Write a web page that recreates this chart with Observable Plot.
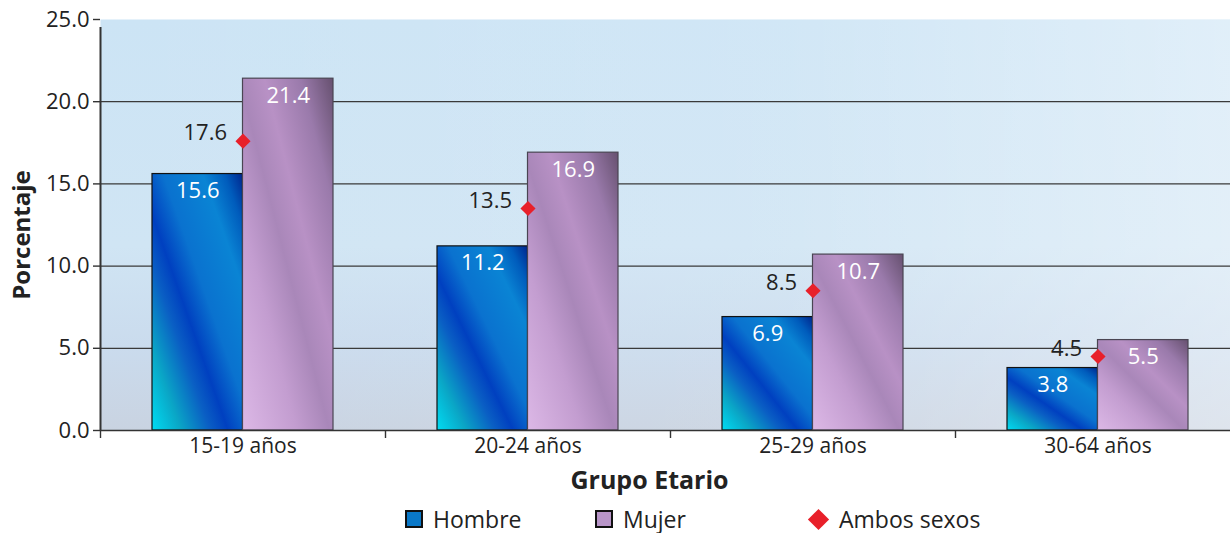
<!DOCTYPE html>
<html>
<head>
<meta charset="utf-8">
<script src="https://cdn.jsdelivr.net/npm/d3@7"></script>
<script src="https://cdn.jsdelivr.net/npm/@observablehq/plot@0.6"></script>
<style>
  html, body { margin: 0; padding: 0; background: #fff; }
  body { width: 1230px; height: 533px; overflow: hidden; font-family: "Open Sans", sans-serif; }
  #legend { height: 36px; position: relative; font-size: 23px; color: #222; }
  .item { position: absolute; top: 10px; height: 24px; line-height: 24px; display: flex; align-items: center; gap: 10px; }
  .sw { width: 14px; height: 14px; border: 2px solid #111; box-sizing: content-box; }
  .dia { width: 15px; height: 15px; background: #e8202a; transform: rotate(45deg); margin: 0 3px; }
  svg g[aria-label="y-axis tick label"] { font-size: 22px; }
  svg g[aria-label="x-axis tick label"] { font-size: 21px; }
</style>
</head>
<body>
<div id="chart"></div>
<div id="legend"></div>
<script>
const categories = ["15-19 años", "20-24 años", "25-29 años", "30-64 años"];
const hombre = [15.6, 11.2, 6.9, 3.8];
const mujer = [21.4, 16.9, 10.7, 5.5];
const ambos = [17.6, 13.5, 8.5, 4.5];
const yTicks = [0, 5, 10, 15, 20, 25];
const gridValues = [5, 10, 15, 20];
const seriesNames = ["Hombre", "Mujer", "Ambos sexos"];

const rows = categories.map((c, i) => ({cat: c, hombre: hombre[i], mujer: mujer[i], ambos: ambos[i]}));

const W = 1230, H = 497;
const xRange = [100, 1240];
const band = (xRange[1] - xRange[0]) / categories.length;
const half = band / 2;
const barW = 90.5;
const outer = half - barW;

function defs() {
  const ns = "http://www.w3.org/2000/svg";
  const g = document.createElementNS(ns, "defs");
  g.innerHTML = `
    <linearGradient id="bg" x1="0" y1="0" x2="0" y2="1">
      <stop offset="0" stop-color="#cce4f5"/>
      <stop offset="0.55" stop-color="#d0e5f4"/>
      <stop offset="0.8" stop-color="#cadbed"/>
      <stop offset="1" stop-color="#c9d3e1"/>
    </linearGradient>
    <linearGradient id="bg2" x1="0" y1="0" x2="1" y2="0">
      <stop offset="0" stop-color="#ffffff" stop-opacity="0"/>
      <stop offset="0.6" stop-color="#ffffff" stop-opacity="0.1"/>
      <stop offset="1" stop-color="#ffffff" stop-opacity="0.4"/>
    </linearGradient>
    <linearGradient id="gH" x1="0" y1="1" x2="1" y2="0">
      <stop offset="0" stop-color="#00dcf2"/>
      <stop offset="0.16" stop-color="#0aa6c6"/>
      <stop offset="0.32" stop-color="#0a5fc4"/>
      <stop offset="0.42" stop-color="#0040c0"/>
      <stop offset="0.56" stop-color="#0a72cf"/>
      <stop offset="0.78" stop-color="#0a84d4"/>
      <stop offset="0.9" stop-color="#005cbc"/>
      <stop offset="1" stop-color="#00268e"/>
    </linearGradient>
    <linearGradient id="gM" x1="0" y1="1" x2="1" y2="0">
      <stop offset="0" stop-color="#dcb8e6"/>
      <stop offset="0.3" stop-color="#c39dd0"/>
      <stop offset="0.48" stop-color="#a987b9"/>
      <stop offset="0.62" stop-color="#b891c5"/>
      <stop offset="0.82" stop-color="#9a7aab"/>
      <stop offset="1" stop-color="#66506f"/>
    </linearGradient>`;
  return g;
}

const plot = Plot.plot({
  width: W,
  height: H,
  marginTop: 19,
  marginLeft: 100,
  marginRight: 0,
  marginBottom: H - 430,
  style: {fontFamily: "Open Sans, sans-serif", fontSize: "20px", color: "#222", background: "transparent"},
  x: {domain: categories, range: xRange, padding: 0},
  y: {domain: [0, 25], range: [430, 19]},
  marks: [
    defs,
    Plot.frame({fill: "url(#bg)", stroke: null}),
    Plot.frame({fill: "url(#bg2)", stroke: null}),
    Plot.ruleY(gridValues, {stroke: "#3a3a3a", strokeWidth: 1.3}),
    Plot.barY(rows, {x: "cat", y: "hombre", fill: "url(#gH)", stroke: "#111", strokeWidth: 1.2,
      insetLeft: outer, insetRight: half}),
    Plot.barY(rows, {x: "cat", y: "mujer", fill: "url(#gM)", stroke: "#4a4552", strokeWidth: 1.2,
      insetLeft: half, insetRight: outer}),
    Plot.text(rows, {x: "cat", y: "hombre", text: d => d.hombre.toFixed(1), dx: -barW / 2, dy: 17,
      fill: "white", fontSize: 22}),
    Plot.text(rows, {x: "cat", y: "mujer", text: d => d.mujer.toFixed(1), dx: barW / 2, dy: 17,
      fill: "white", fontSize: 22}),
    Plot.dot(rows, {x: "cat", y: "ambos", symbol: "diamond2", r: 6.8, fill: "#e8202a", stroke: null}),
    Plot.text(rows, {x: "cat", y: "ambos", text: d => d.ambos.toFixed(1), dx: -16, dy: -8,
      textAnchor: "end", fill: "#222", fontSize: 22}),
    Plot.ruleY([0], {stroke: "#333", strokeWidth: 1.6}),
    Plot.ruleX(categories, {x: d => d, dx: -half, y1: 0, y2: 0, insetBottom: -8, stroke: "#333", strokeWidth: 1.4}),
    Plot.ruleX([categories[0]], {x: d => d, dx: -half, y1: 0, y2: 25, insetBottom: -8, stroke: "#333", strokeWidth: 2}),
    Plot.axisY({ticks: yTicks, tickFormat: d => d.toFixed(1), tickSize: 7, tickPadding: 4,
      stroke: "#333", strokeWidth: 1.4, label: "Porcentaje", labelAnchor: "center", labelArrow: "none", labelOffset: 88}),
    Plot.axisX({tickSize: 0, tickPadding: 8, label: "Grupo Etario", labelAnchor: "center",
      labelArrow: "none", labelOffset: 58})
  ]
});

const sel = d3.select(plot);
sel.selectAll('[aria-label="y-axis label"] text, [aria-label="x-axis label"] text')
  .style("font-weight", "bold").style("fill", "#222");
sel.selectAll('[aria-label="y-axis label"]').style("font-size", "24px");
sel.selectAll('[aria-label="y-axis label"] text').attr("dx", -10);
sel.selectAll('[aria-label="x-axis label"]').style("font-size", "25px");
sel.selectAll('[aria-label="x-axis label"] text').attr("dx", -16);

document.getElementById("chart").appendChild(plot);

const legend = document.getElementById("legend");
const legendItems = [
  {name: seriesNames[0], left: 405, html: '<div class="sw" style="background:#0a78c8"></div>'},
  {name: seriesNames[1], left: 595, html: '<div class="sw" style="background:#b895c8"></div>'},
  {name: seriesNames[2], left: 808, html: '<div class="dia"></div>'}
];
for (const it of legendItems) {
  const el = document.createElement("div");
  el.className = "item";
  el.style.left = it.left + "px";
  el.innerHTML = it.html + "<span>" + it.name + "</span>";
  legend.appendChild(el);
}
</script>
</body>
</html>
